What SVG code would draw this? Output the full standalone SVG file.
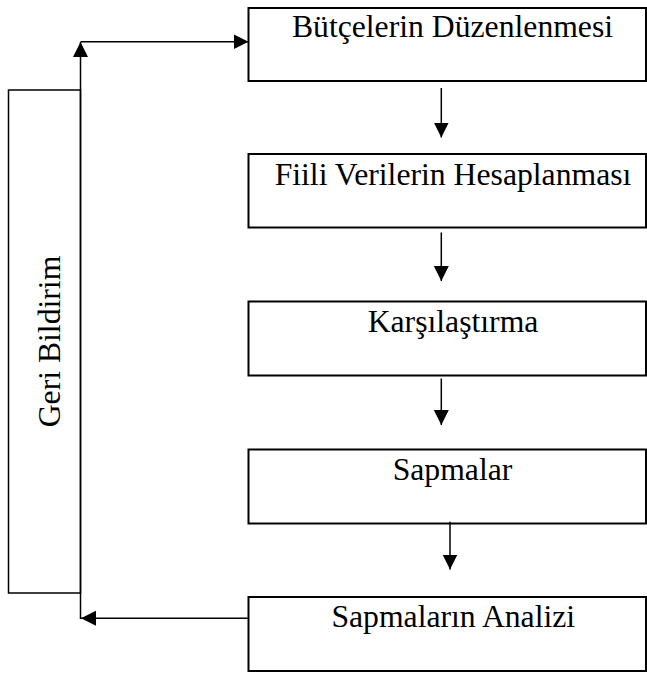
<svg xmlns="http://www.w3.org/2000/svg" width="647" height="673" viewBox="0 0 647 673">
  <style>
    .box { fill: #ffffff; stroke: #000000; stroke-width: 2; }
    .side { fill: #ffffff; stroke: #000000; stroke-width: 1.5; }
    .lbl { font-family: "Liberation Serif", "Times New Roman", serif; font-size: 31.7px; fill: #000000; }
    .mid { text-anchor: middle; }
    .conn { fill: none; stroke: #000000; stroke-width: 1.5; }
  </style>
  <defs>
    <marker id="arrow" markerUnits="userSpaceOnUse" markerWidth="16" markerHeight="16" refX="15" refY="7.5" orient="auto">
      <path d="M0,0 L15,7.5 L0,15 Z" fill="#000000"/>
    </marker>
  </defs>
  <rect width="647" height="673" fill="#ffffff"/>

  <g id="geri-bildirim">
    <rect class="side" x="8.5" y="90" width="72" height="503"/>
    <text class="lbl mid" transform="translate(60,341.5) rotate(-90)">Geri Bildirim</text>
  </g>

  <g id="butcelerin-duzenlenmesi">
    <rect class="box" x="248.5" y="8" width="397.5" height="73"/>
    <text class="lbl mid" x="452.5" y="37">Bütçelerin Düzenlenmesi</text>
  </g>

  <g id="fiili-verilerin-hesaplanmasi">
    <rect class="box" x="248.5" y="154" width="397.5" height="73.5"/>
    <text class="lbl mid" x="453" y="184.5">Fiili Verilerin Hesaplanması</text>
  </g>

  <g id="karsilastirma">
    <rect class="box" x="248.5" y="301.5" width="397.5" height="74"/>
    <text class="lbl mid" x="453" y="331.7">Karşılaştırma</text>
  </g>

  <g id="sapmalar">
    <rect class="box" x="248.5" y="449.5" width="397.5" height="74"/>
    <text class="lbl mid" x="452.5" y="480">Sapmalar</text>
  </g>

  <g id="sapmalarin-analizi">
    <rect class="box" x="248.5" y="597" width="397.5" height="74"/>
    <text class="lbl mid" x="453.3" y="626.7">Sapmaların Analizi</text>
  </g>

  <g id="connectors">
    <line class="conn" x1="441.3" y1="88" x2="441.3" y2="137.5" marker-end="url(#arrow)"/>
    <line class="conn" x1="441.3" y1="232.5" x2="441.3" y2="281" marker-end="url(#arrow)"/>
    <line class="conn" x1="441.3" y1="378.5" x2="441.3" y2="425" marker-end="url(#arrow)"/>
    <line class="conn" x1="450" y1="521.7" x2="450" y2="569.5" marker-end="url(#arrow)"/>
    <line class="conn" x1="248.5" y1="618.3" x2="81" y2="618.3" marker-end="url(#arrow)"/>
    <line class="conn" x1="80.5" y1="619" x2="80.5" y2="42" marker-end="url(#arrow)"/>
    <line class="conn" x1="80.5" y1="41.7" x2="248.5" y2="41.7" marker-end="url(#arrow)"/>
  </g>
</svg>
